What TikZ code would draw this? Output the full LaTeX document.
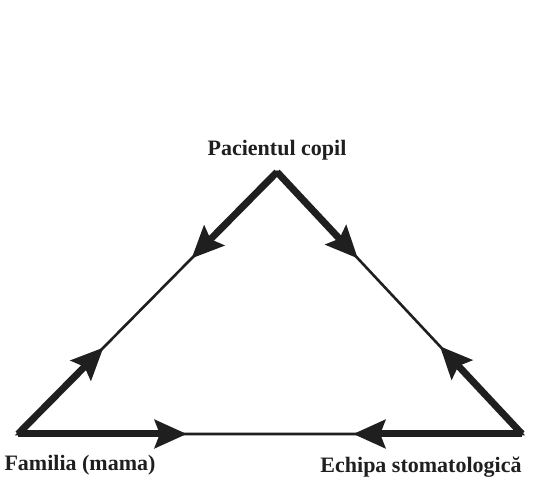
\documentclass[tikz,border=0pt]{standalone}
\usepackage{fontspec}
\setmainfont{Liberation Serif}
\usepackage{tikz}
\usetikzlibrary{arrows.meta,calc,positioning}

\begin{document}
\begin{tikzpicture}[x=1pt, y=1pt,
		side/.style={line width=2.6pt, color=black!88},
		pull/.style={line width=7pt, color=black!88, -{Stealth[length=32pt, width=28pt, inset=5pt]}},
		lbl/.style={font=\bfseries\fontsize{22}{26}\selectfont, text=black!88, inner sep=0pt}]
				\useasboundingbox (0,0) rectangle (533,481);
				\fill[white] (0,0) rectangle (533,481);
				
				\coordinate (pc) at (277,309);
				\coordinate (fm) at (18,47);
				\coordinate (es) at (522,47);
				
				\node[lbl] (pc_t) [above=12pt of pc] {Pacientul copil};
				\node[lbl] (fm_t) at (80,16) {Familia (mama)};
				\node[lbl] (es_t) at (421,14) {Echipa stomatologică};
				
				\draw[side, line join=miter] (pc) -- (fm) -- (es) -- cycle;
				
				\path[pull]
				(pc) edge ($(pc)!0.33!(fm)$)
				(pc) edge ($(pc)!0.33!(es)$)
				(fm) edge ($(fm)!0.33!(pc)$)
				(fm) edge ($(fm)!0.335!(es)$)
				(es) edge ($(es)!0.335!(pc)$)
				(es) edge ($(es)!0.335!(fm)$)
				;
			\end{tikzpicture}
\end{document}
